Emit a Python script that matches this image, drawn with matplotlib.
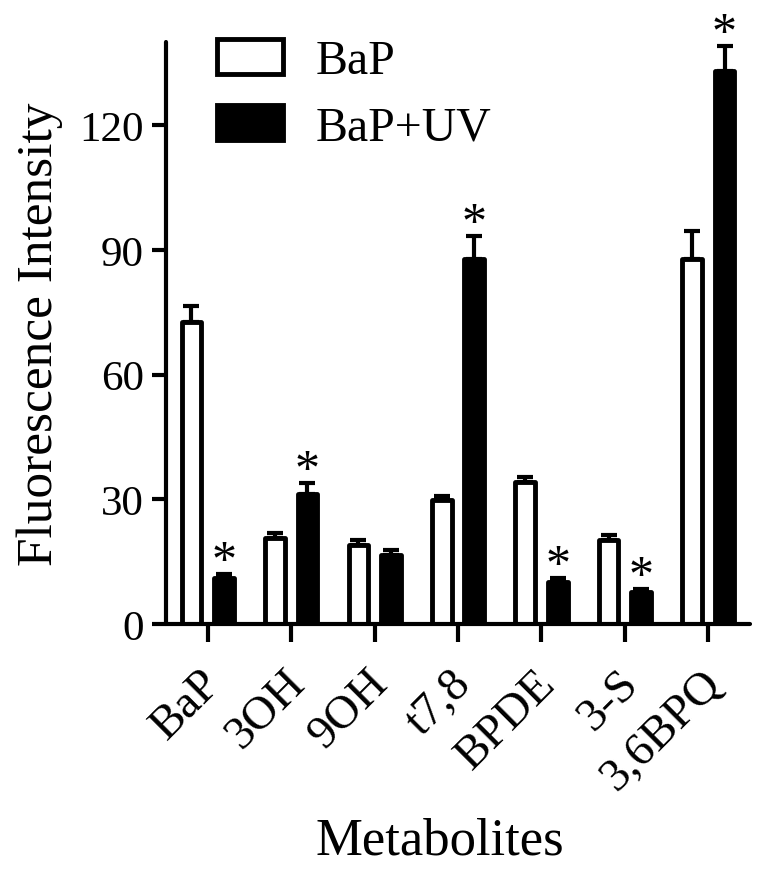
import numpy as np
import matplotlib
matplotlib.use("Agg")
import matplotlib.pyplot as plt
import matplotlib.transforms as mtransforms

plt.rcParams['font.family'] = ['Liberation Serif', 'DejaVu Serif']

# data
metabolites = ["BaP", "3OH", "9OH", "t7,8", "BPDE", "3-S", "3,6BPQ"]
bap = [72.6, 20.8, 18.9, 29.9, 34.2, 20.1, 87.8]
bap_err = [3.8, 1.2, 1.2, 0.8, 1.2, 1.2, 6.8]
bap_uv = [11.0, 31.3, 16.7, 87.8, 10.0, 7.8, 133.0]
bap_uv_err = [1.0, 2.5, 1.0, 5.6, 1.0, 0.5, 6.0]
significant = [True, True, False, True, True, True, True]

x = np.arange(len(metabolites))
w = 0.235
off = 0.195
lw = 3.5

fig = plt.figure(figsize=(7.69, 8.70), dpi=100)
ax = fig.add_axes([166/769, 1-625/870, (750-166)/769, (625-43)/870])

err_kw = dict(ecolor='black', elinewidth=3, capsize=5.5, capthick=3)
b1 = ax.bar(x - off, bap, w, color='white', edgecolor='black', linewidth=lw,
            joinstyle='round', label='BaP', zorder=2)
ax.errorbar(x - off, bap, yerr=[np.zeros(len(bap)), bap_err], fmt='none',
            zorder=1, **err_kw)
b2 = ax.bar(x + off, bap_uv, w, color='black', edgecolor='black', linewidth=lw,
            joinstyle='round', label='BaP+UV', zorder=2)
ax.errorbar(x + off, bap_uv, yerr=[np.zeros(len(bap_uv)), bap_uv_err], fmt='none',
            zorder=1, **err_kw)

# significance stars
for i, s in enumerate(significant):
    if s:
        ax.text(x[i] + off, bap_uv[i] + bap_uv_err[i], '*', ha='center',
                va='baseline', fontsize=36)

ax.set_xlim(-0.5, len(metabolites) - 0.5)
ax.set_ylim(0, 140)
ax.set_yticks([0, 30, 60, 90, 120])
ax.set_xticks(x)
ax.set_xticklabels(metabolites, rotation=45, ha='right', rotation_mode='anchor')
ax.tick_params(axis='y', labelsize=31, width=3, length=10, pad=6)
ax.tick_params(axis='x', labelsize=34, width=3, length=13, pad=14)
shift = mtransforms.ScaledTranslation(-8/100, 0, fig.dpi_scale_trans)
for lab in ax.get_xticklabels():
    lab.set_transform(lab.get_transform() + shift)

for side in ['top', 'right']:
    ax.spines[side].set_visible(False)
for side in ['left', 'bottom']:
    ax.spines[side].set_linewidth(3)
    ax.spines[side].set_capstyle('round')

ax.set_ylabel('Fluorescence Intensity', fontsize=37)
ax.yaxis.set_label_coords(-0.176, 0.5)
ax.set_xlabel('Metabolites', fontsize=38, va='baseline')
ax.xaxis.set_label_coords((440-166)/584, (625-855)/582)

ax.legend(handles=[b1, b2], loc='upper left', bbox_to_anchor=(217/769, 1-40/870),
          bbox_transform=fig.transFigure, frameon=False, fontsize=34.5,
          handlelength=1.38, handleheight=0.73, handletextpad=0.67,
          labelspacing=0.46, borderpad=0, borderaxespad=0)

fig.savefig("out.png", dpi=100)
